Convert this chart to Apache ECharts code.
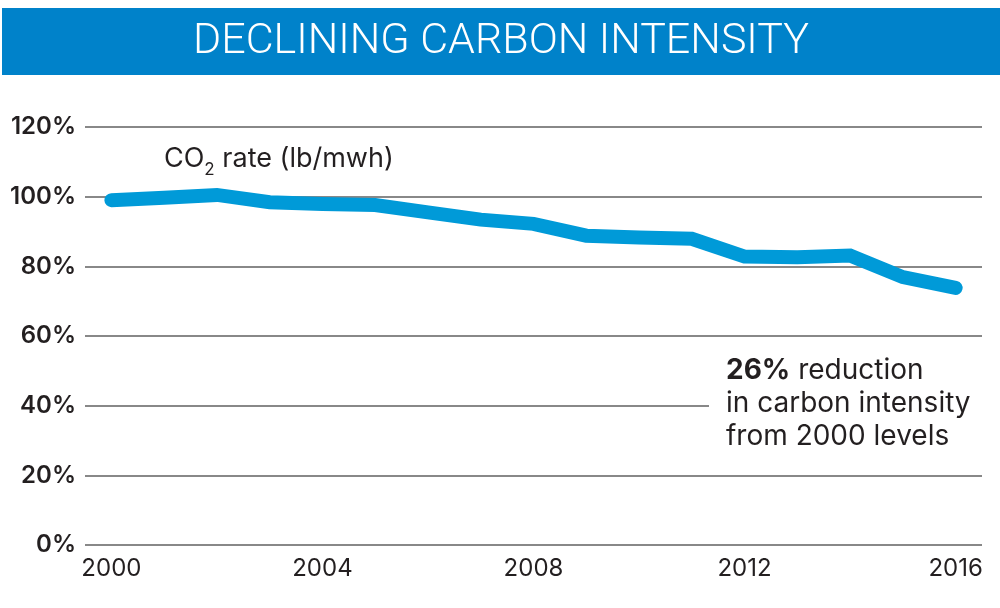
<!DOCTYPE html>
<html>
<head>
<meta charset="utf-8">
<script src="https://cdn.jsdelivr.net/npm/echarts@6/dist/echarts.min.js"></script>
<style>html,body{margin:0;padding:0;background:#fff}#c{width:1000px;height:608px}</style>
</head>
<body>
<div id="c"></div>
<script>
const years = ['2000','2001','2002','2003','2004','2005','2006','2007','2008','2009','2010','2011','2012','2013','2014','2015','2016'];
const co2Rate = [99.0, 99.7, 100.5, 98.4, 97.9, 97.6, 95.5, 93.4, 92.2, 88.8, 88.3, 87.9, 82.8, 82.6, 83.1, 76.9, 73.8];
const titleText = 'DECLINING CARBON INTENSITY';

const chart = echarts.init(document.getElementById('c'));
chart.setOption({
  animation: false,
  grid: { left: 85, right: 18, top: 127, bottom: 63 },
  xAxis: {
    type: 'category', data: years, boundaryGap: true,
    axisLine: { show: false }, axisTick: { show: false },
    axisLabel: { interval: 3, color: '#231f20', fontFamily: 'Inter', fontSize: 24, margin: 12 }
  },
  yAxis: {
    type: 'value', min: 0, max: 120, interval: 20,
    axisLine: { show: false }, axisTick: { show: false },
    axisLabel: { formatter: '{value}%', color: '#231f20', fontFamily: 'Inter', fontWeight: 600, fontSize: 24, margin: 9 },
    splitLine: { lineStyle: { color: '#888', width: 2 } }
  },
  series: [{
    type: 'line', data: co2Rate, symbol: 'none', z: 5,
    lineStyle: { color: '#009ad8', width: 14, cap: 'round', join: 'miter' }
  }],
  graphic: [
    { type: 'rect', left: 2, top: 8, shape: { width: 998, height: 67 }, style: { fill: '#0082ca' }, z: 10 },
    { type: 'text', x: 501, y: 42, z: 11, style: { text: titleText, fill: '#fff', font: '300 43px Roboto', align: 'center', verticalAlign: 'middle' } },
    { type: 'rect', left: 709, top: 400, shape: { width: 290, height: 10 }, style: { fill: '#fff' }, z: 10 },
    { type: 'text', left: 164, top: 145, z: 11, style: {
        text: '{a|CO}{s|2}{a| rate (lb/mwh)}',
        rich: { a: { fontFamily: 'Inter', fontSize: 27, fill: '#231f20', verticalAlign: 'bottom' },
                s: { fontFamily: 'Inter', fontSize: 17, fill: '#231f20', padding: [0,0,-6,0], verticalAlign: 'bottom' } } } },
    { type: 'text', left: 726, top: 357, z: 11, style: {
        text: '{b|26%}{a| reduction}\n{a|in carbon intensity}\n{a|from 2000 levels}',
        rich: { a: { fontFamily: 'Inter', fontSize: 28, fill: '#231f20', lineHeight: 33 },
                b: { fontFamily: 'Inter', fontWeight: 'bold', fontSize: 28, fill: '#231f20', lineHeight: 33 } } } }
  ]
});
</script>
</body>
</html>
